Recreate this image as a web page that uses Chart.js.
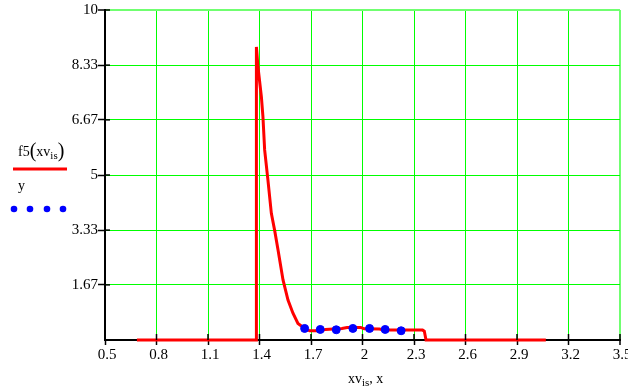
<!DOCTYPE html>
<html>
<head>
<meta charset="utf-8">
<script src="https://cdn.jsdelivr.net/npm/chart.js@4"></script>
<style>
  html, body { margin: 0; padding: 0; background: #fff; }
  #wrap { width: 628px; height: 387px; position: relative; }
</style>
</head>
<body>
<div id="wrap"><canvas id="plot"></canvas></div>
<script>
// f5(xv_is): the red trace
const curveX = [0.686, 1.382, 1.382, 1.391, 1.411, 1.420, 1.430, 1.449, 1.469, 1.488, 1.508, 1.537,
  1.566, 1.595, 1.624, 1.663, 1.692, 1.760, 1.785, 1.880, 1.910, 1.990, 2.010, 2.100, 2.120, 2.350, 2.360, 2.370, 3.068];
const curveY = [0, 0, 8.88, 8.28, 7.37, 6.77, 5.76, 4.85, 3.84, 3.33, 2.73, 1.82,
  1.21, 0.81, 0.50, 0.35, 0.28, 0.28, 0.32, 0.35, 0.38, 0.38, 0.34, 0.33, 0.30, 0.30, 0.27, 0, 0];

// y: the blue points
const pointsX = [1.663, 1.754, 1.847, 1.944, 2.041, 2.132, 2.225];
const pointsY = [0.35, 0.32, 0.31, 0.35, 0.35, 0.32, 0.28];

const xTicks = [0.5, 0.8, 1.1, 1.4, 1.7, 2, 2.3, 2.6, 2.9, 3.2, 3.5];
const xTickLabels = ["0.5", "0.8", "1.1", "1.4", "1.7", "2", "2.3", "2.6", "2.9", "3.2", "3.5"];
const yTicks = [0, 1.67, 3.33, 5, 6.67, 8.33, 10];
const yTickLabels = ["", "1.67", "3.33", "5", "6.67", "8.33", "10"];

const SERIF = "'Liberation Serif', 'Times New Roman', serif";
const GREEN = "#00ff00";
const EDGE_GREEN = "#70ff70";

// writes pieces one after another: [text, fontSize, dy]
function chain(ctx, x, y, parts) {
  parts.forEach(([t, size, dy]) => {
    ctx.font = size + "px " + SERIF;
    ctx.fillText(t, x, y + dy);
    x += ctx.measureText(t).width;
  });
}

// Mathcad style ticks cross the axis: draw the inner halves, the legend and the axis title
const decorPlugin = {
  id: "decor",
  afterDraw(chart) {
    const ctx = chart.ctx;
    const xs = chart.scales.x, ys = chart.scales.y;
    const x0 = xs.getPixelForValue(xs.min), y0 = ys.getPixelForValue(ys.min);
    ctx.save();
    ctx.strokeStyle = "#000";
    ctx.lineWidth = 1.5;
    yTicks.forEach(v => {
      if (v === 0) return;
      const py = ys.getPixelForValue(v);
      ctx.beginPath(); ctx.moveTo(x0, py); ctx.lineTo(x0 + 5, py); ctx.stroke();
    });
    xTicks.forEach(v => {
      if (v === xs.min) return;
      const px = xs.getPixelForValue(v);
      ctx.beginPath(); ctx.moveTo(px, y0); ctx.lineTo(px, y0 - 6); ctx.stroke();
    });

    // legend
    ctx.fillStyle = "#000";
    ctx.textBaseline = "alphabetic";
    chain(ctx, 18, 156, [["f5", 14, 0], ["(", 20, 1], ["xv", 14, 0], ["is", 11, 3], [")", 20, 1]]);
    ctx.strokeStyle = "#ff0000";
    ctx.lineWidth = 3;
    ctx.beginPath(); ctx.moveTo(13, 169); ctx.lineTo(67, 169); ctx.stroke();
    chain(ctx, 18, 190, [["y", 14, 0]]);
    ctx.fillStyle = "#0000ff";
    [14, 30, 47, 63].forEach(px => {
      ctx.beginPath(); ctx.arc(px, 209, 3.3, 0, Math.PI * 2); ctx.fill();
    });

    // x axis title
    ctx.fillStyle = "#000";
    chain(ctx, 348, 383, [["xv", 14, 0], ["is", 11, 3], [", x", 14, 0]]);
    ctx.restore();
  }
};

new Chart(document.getElementById("plot"), {
  type: "scatter",
  data: {
    datasets: [
      {
        label: "y",
        data: pointsX.map((x, i) => ({ x, y: pointsY[i] })),
        backgroundColor: "#0000ff",
        borderColor: "#0000ff",
        pointRadius: 4,
        pointHoverRadius: 4,
        showLine: false,
        order: 1,
      },
      {
        label: "f5(xv_is)",
        data: curveX.map((x, i) => ({ x, y: curveY[i] })),
        borderColor: "#ff0000",
        borderWidth: 3,
        pointRadius: 0,
        showLine: true,
        tension: 0,
        clip: false,
        order: 2,
      },
    ],
  },
  options: {
    responsive: true,
    maintainAspectRatio: false,
    animation: false,
    events: [],
    layout: { padding: { top: 10, right: 8, left: 0, bottom: 0 } },
    plugins: { legend: { display: false }, tooltip: { enabled: false } },
    scales: {
      x: {
        type: "linear",
        min: 0.5,
        max: 3.5,
        afterBuildTicks: s => { s.ticks = xTicks.map(v => ({ value: v })); },
        afterFit: s => { s.height = 47; s.paddingLeft = 0; s.paddingRight = 0; },
        ticks: {
          autoSkip: false,
          maxRotation: 0,
          padding: 1,
          labelOffset: 2,
          color: "#000",
          font: { family: SERIF, size: 15 },
          callback: (v) => xTickLabels[xTicks.indexOf(v)] ?? "",
        },
        grid: {
          color: c => c.index === xTicks.length - 1 ? EDGE_GREEN : GREEN,
          lineWidth: c => c.index === xTicks.length - 1 ? 2 : 1,
          tickColor: "#000",
          tickWidth: 1.5,
          tickLength: 5,
        },
        border: { color: "#000", width: 2 },
      },
      y: {
        type: "linear",
        min: 0,
        max: 10,
        afterBuildTicks: s => { s.ticks = yTicks.map(v => ({ value: v })); },
        afterFit: s => { s.width = 105; s.paddingTop = 0; s.paddingBottom = 0; },
        ticks: {
          autoSkip: false,
          padding: 0,
          color: "#000",
          font: { family: SERIF, size: 15 },
          callback: (v) => yTickLabels[yTicks.indexOf(v)] ?? "",
        },
        grid: {
          color: c => c.index === yTicks.length - 1 ? EDGE_GREEN : GREEN,
          lineWidth: c => c.index === yTicks.length - 1 ? 2 : 1,
          tickColor: c => c.index === 0 ? "rgba(0,0,0,0)" : "#000",
          tickWidth: 1.5,
          tickLength: 7,
        },
        border: { color: "#000", width: 2 },
      },
    },
  },
  plugins: [decorPlugin],
});
</script>
</body>
</html>
